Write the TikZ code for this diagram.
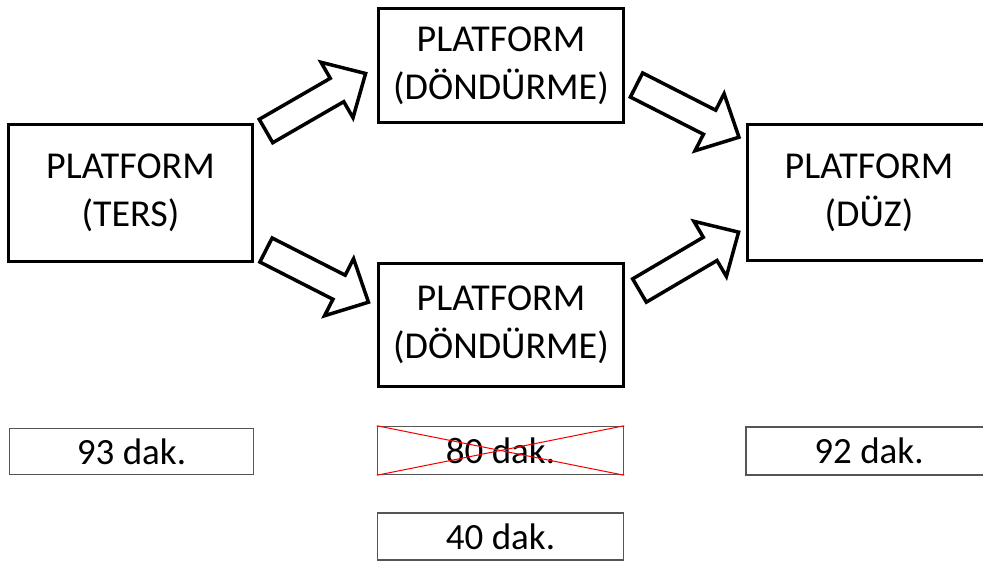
\documentclass[tikz,border=0pt]{standalone}
\usepackage{fontspec}
\setmainfont{Carlito}
\begin{document}
\begin{tikzpicture}[x=1pt,y=-1pt,
  bigbox/.style={draw=black, line width=3pt, fill=white, inner sep=0pt, align=center,
    font=\fontsize{38}{48}\selectfont},
  smallbox/.style={draw={rgb,255:red,85;green,85;blue,85}, line width=1.5pt, inner sep=0pt,
    font=\fontsize{37}{42}\selectfont},
  arrowline/.style={draw=black, line width=3.5pt, fill=white, line join=miter},
  blockarrow/.pic={\path[arrowline] (0,-13.5) -- (82,-13.5) -- (82,-32) -- (115,0) -- (82,32) -- (82,13.5) -- (0,13.5) -- cycle;},
  crossline/.style={draw=red, line width=1pt}]
\useasboundingbox (0,0) rectangle (983,563);
% main boxes
\node[bigbox, minimum width=244pt, minimum height=137pt] (ters) at (130.5,193) {PLATFORM\\(TERS)};
\node[bigbox, minimum width=245pt, minimum height=114pt] (dtop) at (501,65.5) {PLATFORM\\(DÖNDÜRME)};
\node[bigbox, minimum width=245pt, minimum height=123pt] (dbot) at (501,325) {PLATFORM\\(DÖNDÜRME)};
\node[bigbox, minimum width=243pt, minimum height=136pt] (duz) at (869,192.5) {PLATFORM\\(DÜZ)};
% time boxes
\node[smallbox, minimum width=244pt, minimum height=46pt] (t93) at (131.5,451.5) {93 dak.};
\node[smallbox, minimum width=246pt, minimum height=48pt] (t80) at (500.5,450.5) {80 dak.};
\node[smallbox, minimum width=246pt, minimum height=47pt] (t40) at (500.5,536.5) {40 dak.};
\node[smallbox, minimum width=246pt, minimum height=48pt] (t92) at (869,451) {92 dak.};
\draw[crossline] (t80.north west) -- (t80.south east);
\draw[crossline] (t80.south west) -- (t80.north east);
% block arrows
\coordinate (a1) at (266,131);
\coordinate (a2) at (266,250);
\coordinate (a3) at (636.5,85);
\coordinate (a4) at (639.5,290.5);
\pic[rotate=30] at (a1) {blockarrow};
\pic[rotate=-27] at (a2) {blockarrow};
\pic[rotate=-27] at (a3) {blockarrow};
\pic[rotate=30.5] at (a4) {blockarrow};
\end{tikzpicture}
\end{document}
